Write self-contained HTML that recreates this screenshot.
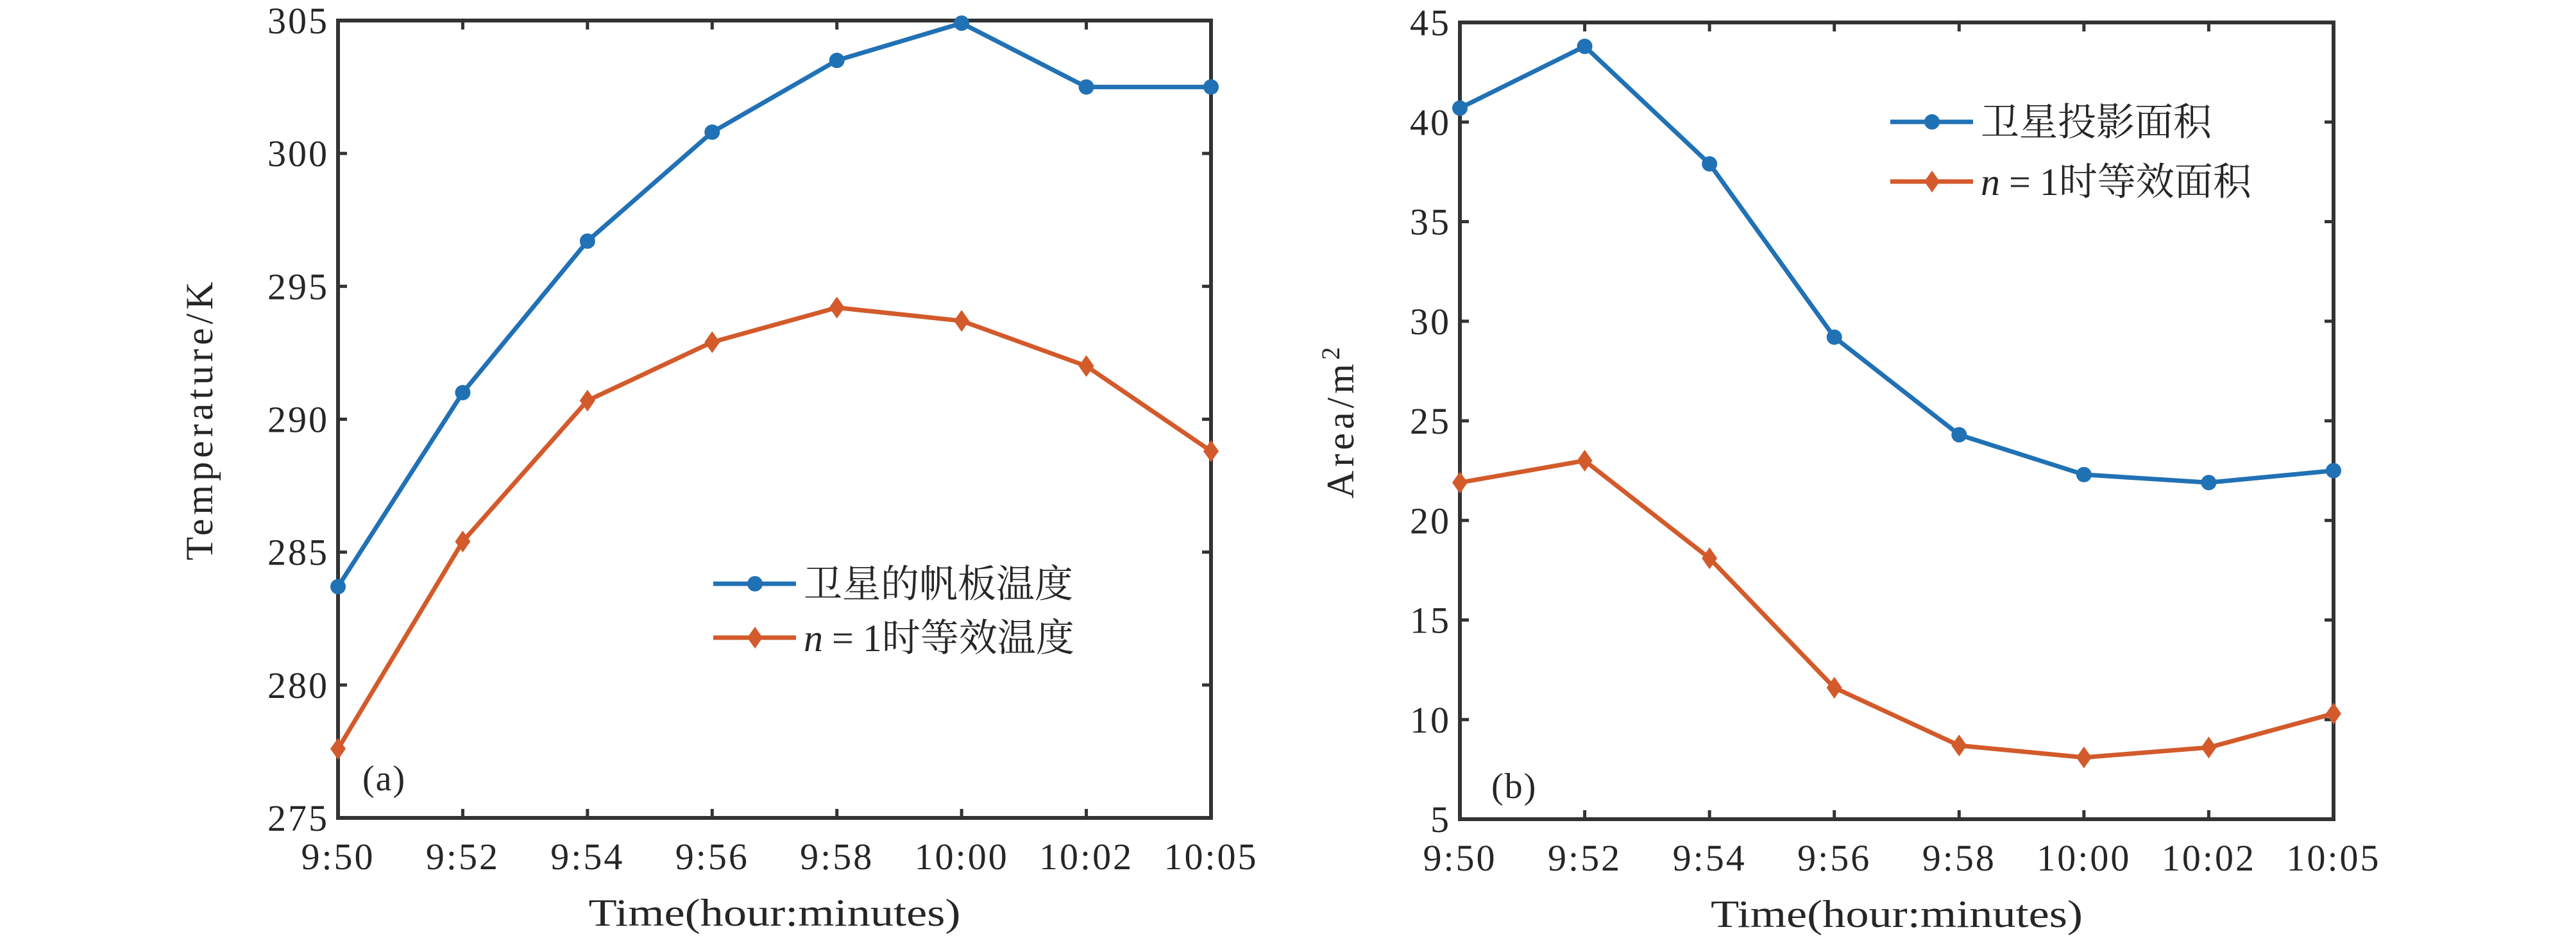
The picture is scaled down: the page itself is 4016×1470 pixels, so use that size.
<!DOCTYPE html>
<html><head><meta charset="utf-8"><style>
html,body{margin:0;padding:0;background:#fff;}
svg text{font-family:"Liberation Serif","Noto Serif CJK SC",serif;fill:#262626;}
</style></head><body>
<svg id="chart" width="4016" height="1465" viewBox="0 0 4016 1465" xmlns="http://www.w3.org/2000/svg">
<g id="pa"></g>
<g id="pb"></g>
</svg>
<script>
const categories = ["9:50","9:52","9:54","9:56","9:58","10:00","10:02","10:05"];
const tempPanel = [283.7,291.0,296.7,300.8,303.5,304.9,302.5,302.5];
const tempEquiv = [277.6,285.4,290.7,292.9,294.2,293.7,292.0,288.8];
const tempTicks = [275,280,285,290,295,300,305];
const areaProj = [40.7,43.8,37.9,29.2,24.3,22.3,21.9,22.5];
const areaEquiv = [21.9,23.0,18.1,11.6,8.7,8.1,8.6,10.3];
const areaTicks = [5,10,15,20,25,30,35,40,45];

const NS="http://www.w3.org/2000/svg";
function mk(parent,tag,attrs,text){const e=document.createElementNS(NS,tag);for(const k in attrs)e.setAttribute(k,attrs[k]);if(text!==undefined)e.textContent=text;parent.appendChild(e);return e;}

function panel(g,box,ymin,ymax,ticks,s1,s2,leg,ylabel,tag){
  const {x0,x1,y0,y1}=box;
  const X=i=>x0+(x1-x0)*i/(categories.length-1);
  const Y=v=>y1-(y1-y0)*(v-ymin)/(ymax-ymin);
  const ax=mk(g,'g',{});
  
  
  const r=mk(ax,'rect',{x:x0,y:y0,width:x1-x0,height:y1-y0,fill:'none',stroke:'#333',"stroke-width":6});
  
  
  ticks.forEach(t=>{
    const y=Y(t);
    mk(ax,'line',{x1:x0,x2:x0+14,y1:y,y2:y,stroke:'#333',"stroke-width":5});
    mk(ax,'line',{x1:x1-14,x2:x1,y1:y,y2:y,stroke:'#333',"stroke-width":5});
    const tl=mk(ax,'text',{x:x0-14,y:y+20,"text-anchor":"end","font-size":58,"letter-spacing":3},String(t));
    
    
  });
  categories.forEach((c,i)=>{
    const x=X(i);
    mk(ax,'line',{x1:x,x2:x,y1:y1,y2:y1-14,stroke:'#333',"stroke-width":5});
    mk(ax,'line',{x1:x,x2:x,y1:y0,y2:y0+14,stroke:'#333',"stroke-width":5});
    const tl=mk(ax,'text',{x:x,y:y1+80,"text-anchor":"middle","font-size":58,"letter-spacing":3},c);
    
    
  });
  const xl=mk(ax,'text',{x:(x0+x1)/2-290,y:y1+168,"font-size":60,textLength:580,lengthAdjust:"spacingAndGlyphs"},'Time(hour:minutes)');
  
  
  const yc=(y0+y1)/2;
  const yl=mk(ax,'text',{x:ylabel.x,y:yc,"text-anchor":"middle","font-size":60,"letter-spacing":ylabel.ls,transform:`rotate(-90 ${ylabel.x} ${yc})`});
  
  
  yl.innerHTML=ylabel.html;
  const tg=mk(ax,'text',{x:tag.x,y:tag.y,"font-size":56,"letter-spacing":2},tag.t);
  
  
  [[s1,'#2171B5','circle'],[s2,'#D35A2B','diamond']].forEach(([d,col,m],k)=>{
    const sg=mk(g,'g',{});
    
    
    const p=mk(sg,'polyline',{points:d.map((v,i)=>X(i)+','+Y(v)).join(' '),fill:'none',stroke:col,"stroke-width":7,"stroke-linejoin":"round"});
    
    
    d.forEach((v,i)=>{
      const x=X(i),y=Y(v);
      let mkr;
      if(m==='circle') mkr=mk(sg,'circle',{cx:x,cy:y,r:12,fill:col});
      else mkr=mk(sg,'polygon',{points:`${x},${y-17} ${x+12},${y} ${x},${y+17} ${x-12},${y}`,fill:col});
      
      
    });
  });
  const lg=mk(g,'g',{});
  
  
  [[leg.t1,'#2171B5','circle',leg.y1],[leg.t2,'#D35A2B','diamond',leg.y2]].forEach(([t,col,m,y],k)=>{
    const e=mk(lg,'g',{});
    
    
    mk(e,'line',{x1:leg.x,x2:leg.x+129,y1:y,y2:y,stroke:col,"stroke-width":7});
    const cx=leg.x+65;
    if(m==='circle') mk(e,'circle',{cx:cx,cy:y,r:12,fill:col});
    else mk(e,'polygon',{points:`${cx},${y-17} ${cx+12},${y} ${cx},${y+17} ${cx-12},${y}`,fill:col});
    const tx=mk(e,'text',{x:leg.x+141,y:y+21,"font-size":60});
    tx.innerHTML=t;
  });
}
panel(document.getElementById('pa'),{x0:527,x1:1888,y0:32,y1:1275},275,305,tempTicks,tempPanel,tempEquiv,
  {x:1112,y1:910,y2:994,t1:'卫星的帆板温度',t2:'<tspan font-style="italic">n</tspan><tspan dx="14">=</tspan><tspan dx="14">1</tspan>时等效温度'},
  {x:331,ls:6,html:'Temperature/K'},{x:565,y:1232,t:'(a)'});
panel(document.getElementById('pb'),{x0:2276,x1:3638,y0:35,y1:1277},5,45,areaTicks,areaProj,areaEquiv,
  {x:2947,y1:190,y2:283,t1:'卫星投影面积',t2:'<tspan font-style="italic">n</tspan><tspan dx="14">=</tspan><tspan dx="14">1</tspan>时等效面积'},
  {x:2110,ls:6,html:'Area/m<tspan font-size="40" dy="-22">2</tspan>'},{x:2325,y:1244,t:'(b)'});
</script>
</body></html>
